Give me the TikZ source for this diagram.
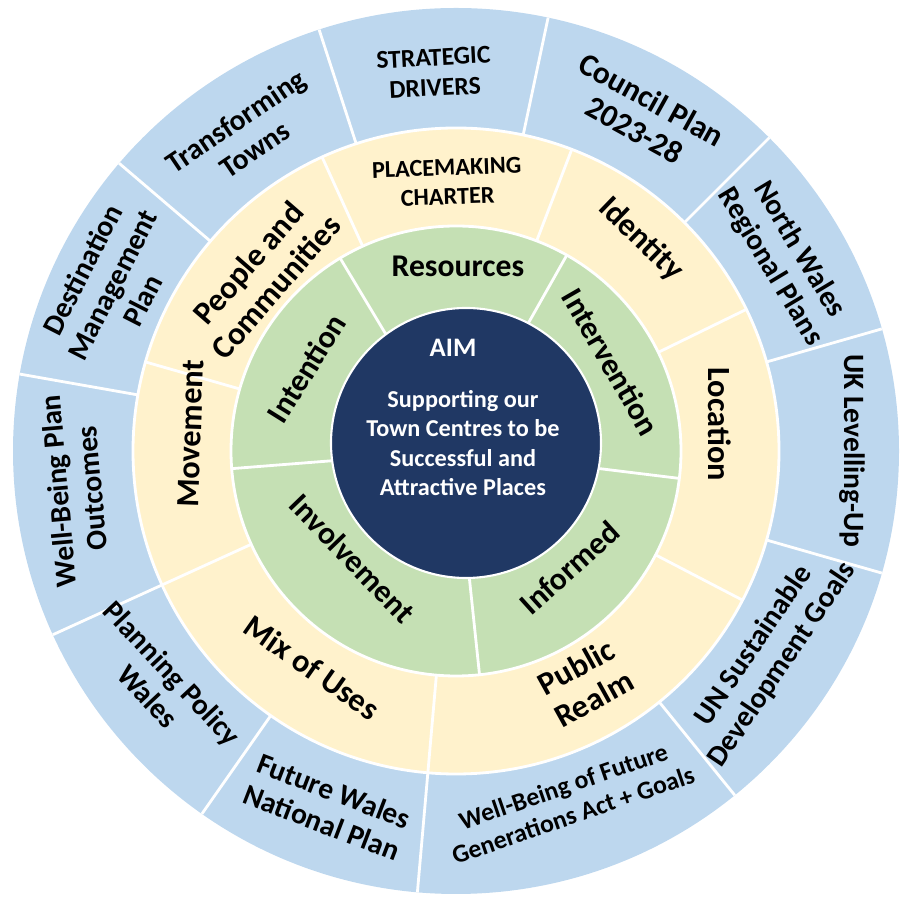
\documentclass[tikz,border=0pt]{standalone}
\usepackage{fontspec}
\setmainfont{Carlito}
\usetikzlibrary{calc}

\definecolor{ringblue}{HTML}{BDD7EE}
\definecolor{ringcream}{HTML}{FFF2CC}
\definecolor{ringgreen}{HTML}{C5E0B4}
\definecolor{coreblue}{HTML}{203864}

\tikzset{
  ring/.style={draw=white, line width=0.8pt},
  divider/.style={white, line width=0.8pt},
  core/.style={circle, fill=coreblue, draw=white, line width=0.6pt, minimum size=2.7cm, inner sep=0pt},
  outerlabel/.style={font=\bfseries\fontsize{8.4}{9.6}\selectfont, align=center, inner sep=0pt},
  midlabel/.style={font=\bfseries\fontsize{9.2}{10.4}\selectfont, align=center, inner sep=0pt},
  innerlabel/.style={font=\bfseries\fontsize{9}{10}\selectfont, align=center, inner sep=0pt},
  capslabel/.style={font=\bfseries\fontsize{7.3}{8.6}\selectfont, align=center, inner sep=0pt},
  coretext/.style={font=\bfseries\fontsize{6.9}{8.3}\selectfont, align=center, text=white, inner sep=0pt},
}

\begin{document}
\begin{tikzpicture}
\useasboundingbox (0,0) rectangle (9.01,9.01);
\begin{scope}[shift={(4.56,4.50)}]
  % rings
  \fill[ringblue] (0,0) circle (4.43);
  \draw[ring, fill=ringcream] (0,0) circle (3.23);
  \draw[ring, fill=ringgreen] (0,0) circle (2.25);

  % sector borders
  \foreach \a in {108,78,45,16,-16,-51,-95,-125,-155.5,170,139.5}
    \draw[divider] (\a:3.23) -- (\a:4.43);
  \foreach \a in {114.5,69,26,-27.5,-95,-155.5,164}
    \draw[divider] (\a:2.25) -- (\a:3.23);
  \foreach \a in {121,60.5,-7,-84,184.5}
    \draw[divider] (\a:1.2) -- (\a:2.25);

  \node[core] (core) at (0.10,0.08) {};
  \node[coretext, font=\bfseries\fontsize{7.6}{8.3}\selectfont] (aim) at ($(core.center)+(-0.13,0.95)$) {AIM};
  \node[coretext] (goal) at ($(core.center)+(-0.03,0)$) {Supporting our\\Town Centres to be\\Successful and\\Attractive Places};

  % strategic drivers
  \node[capslabel, rotate=3] (strategic) at (93.3:3.79) {STRATEGIC\\DRIVERS};
  \node[outerlabel, font=\bfseries\fontsize{9}{9.9}\selectfont, rotate=-29] (council) at (60.9:3.85) {Council Plan\\2023-28};
  \node[outerlabel, rotate=-59] (northwales) at (30.4:3.81) {North Wales\\Regional Plans};
  \node[outerlabel, rotate=-90] (levelling) at (0:3.96) {UK Levelling-Up};
  \node[outerlabel, rotate=56] (unsdg) at (-33.2:3.73) {UN Sustainable\\Development Goals};
  \node[outerlabel, font=\bfseries\fontsize{7.3}{8.6}\selectfont, rotate=19] (wellbeingact) at (-72.2:3.67) {Well-Being of Future\\Generations Act + Goals};
  \node[outerlabel, rotate=-21] (futurewales) at (-109.8:3.78) {Future Wales\\National Plan};
  \node[outerlabel, rotate=-47] (planningpolicy) at (-141.7:3.77) {Planning Policy\\Wales};
  \node[outerlabel, rotate=95] (wellbeingplan) at (185.8:3.83) {Well-Being Plan\\Outcomes};
  \node[outerlabel, rotate=63] (destination) at (154.2:3.82) {Destination\\Management\\Plan};
  \node[outerlabel, rotate=34] (transforming) at (123.7:3.80) {Transforming\\Towns};

  % placemaking charter
  \node[capslabel, font=\bfseries\fontsize{6.9}{8.3}\selectfont, rotate=2] (charter) at (91.9:2.69) {PLACEMAKING\\CHARTER};
  \node[midlabel, rotate=-44] (identity) at (48.8:2.81) {Identity};
  \node[midlabel, rotate=-90] (location) at (5.8:2.65) {Location};
  \node[midlabel, rotate=29] (publicrealm) at (-60.9:2.65) {Public\\Realm};
  \node[midlabel, rotate=-35] (mixuses) at (-123.6:2.60) {Mix of Uses};
  \node[midlabel, rotate=88] (movement) at (176.3:2.66) {Movement};
  \node[midlabel, rotate=49] (people) at (137.8:2.62) {People and\\Communities};

  % five i's
  \node[innerlabel] (resources) at (89.4:1.85) {Resources};
  \node[innerlabel, rotate=-60] (intervention) at (29.9:1.79) {Intervention};
  \node[innerlabel, rotate=42] (informed) at (-45.7:1.63) {Informed};
  \node[innerlabel, rotate=-46] (involvement) at (226:1.49) {Involvement};
  \node[innerlabel, rotate=58] (intention) at (151:1.71) {Intention};
\end{scope}
\end{tikzpicture}
\end{document}
